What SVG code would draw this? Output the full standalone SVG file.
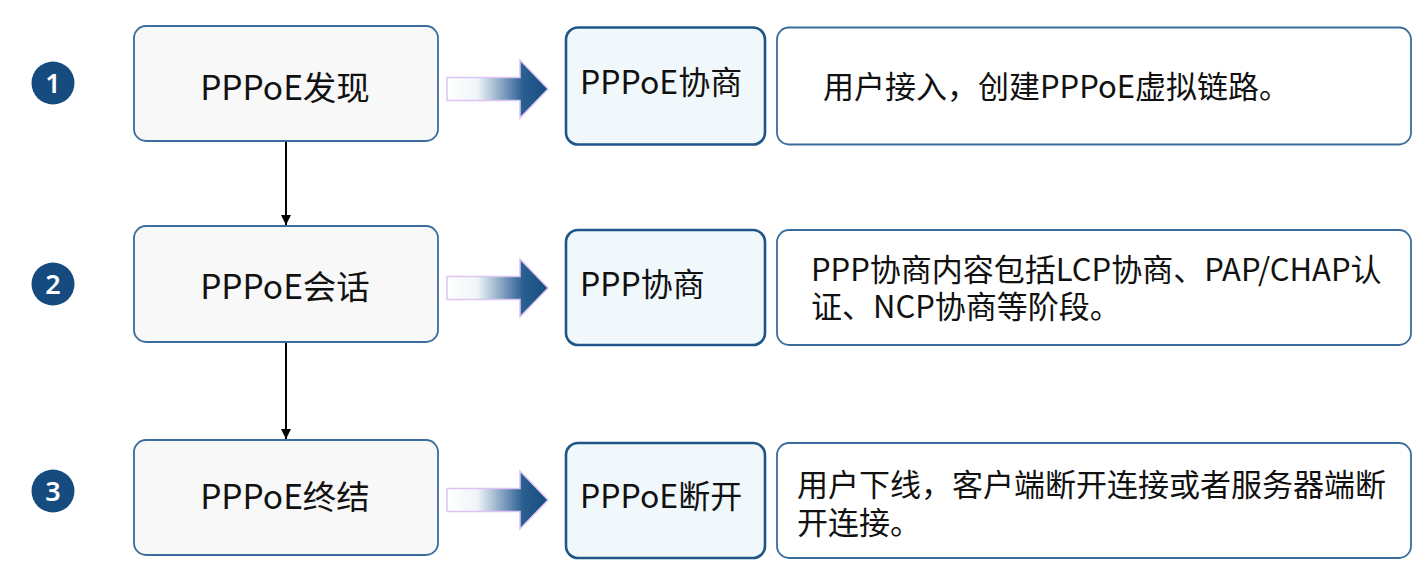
<svg xmlns="http://www.w3.org/2000/svg" width="1425" height="565" viewBox="0 0 1425 565">
<defs>
<linearGradient id="ag" x1="0" y1="0" x2="1" y2="0">
<stop offset="0" stop-color="#ffffff"/>
<stop offset="0.3" stop-color="#f0f5fa"/>
<stop offset="0.75" stop-color="#2b5f92"/>
<stop offset="1" stop-color="#154b7f"/>
</linearGradient>
<marker id="ah" markerWidth="12" markerHeight="12" refX="10" refY="5.5" orient="auto" markerUnits="userSpaceOnUse">
<path d="M0,0.5 L10,5.5 L0,10.5 Z" fill="#000"/>
</marker>
<path id="bigarrow" d="M0,-11.5 L73,-11.5 L73,-29 L101,0 L73,29 L73,11.5 L0,11.5 Z"/>
</defs>
<style>
.step{fill:#f8f8f8;stroke:#3a6d9c;stroke-width:1.8}
.mid{fill:#f1f8fc;stroke:#1f5687;stroke-width:2.6}
.desc{fill:#ffffff;stroke:#3a6d9c;stroke-width:1.8}
.num{fill:#154b7f}
.numt{fill:#fff;font-family:"Noto Sans","Liberation Sans",sans-serif;font-weight:600;font-size:27px;text-anchor:middle}
.t1{fill:#111;font-family:"Noto Sans CJK SC",sans-serif;font-size:33.5px;text-anchor:middle}
.t2{fill:#111;font-family:"Noto Sans CJK SC",sans-serif;font-size:32px}
.t3{fill:#111;font-family:"Noto Sans CJK SC",sans-serif;font-size:31px}
.arr{fill:url(#ag);stroke:#dcc4f4;stroke-width:1.5}
.conn{stroke:#000;stroke-width:2;fill:none}
</style>
<g id="connectors">
<line class="conn" x1="286" y1="142" x2="286" y2="225" marker-end="url(#ah)"/>
<line class="conn" x1="286" y1="343" x2="286" y2="439" marker-end="url(#ah)"/>
<use href="#bigarrow" class="arr" transform="translate(447,89)"/>
<use href="#bigarrow" class="arr" transform="translate(447,288)"/>
<use href="#bigarrow" class="arr" transform="translate(447,500)"/>
</g>
<g id="num1"><circle class="num" cx="53" cy="83" r="21.5"/><text class="numt" x="53" y="93">1</text></g>
<g id="num2"><circle class="num" cx="53" cy="284" r="21.5"/><text class="numt" x="53" y="294">2</text></g>
<g id="num3"><circle class="num" cx="53" cy="491" r="21.5"/><text class="numt" x="53" y="501">3</text></g>
<g id="step1"><rect class="step" x="134" y="26" width="304" height="115" rx="12"/><text class="t1" x="285" y="100">PPPoE发现</text></g>
<g id="step2"><rect class="step" x="134" y="226" width="304" height="116" rx="12"/><text class="t1" x="285" y="299">PPPoE会话</text></g>
<g id="step3"><rect class="step" x="134" y="440" width="304" height="115" rx="12"/><text class="t1" x="285" y="509">PPPoE终结</text></g>
<g id="mid1"><rect class="mid" x="566" y="27.5" width="199" height="117" rx="12"/><text class="t2" x="580" y="94">PPPoE协商</text></g>
<g id="mid2"><rect class="mid" x="566" y="230" width="199" height="115" rx="12"/><text class="t2" x="580" y="296">PPP协商</text></g>
<g id="mid3"><rect class="mid" x="566" y="443" width="199" height="115" rx="12"/><text class="t2" x="580" y="508">PPPoE断开</text></g>
<g id="desc1"><rect class="desc" x="777" y="27.5" width="634" height="117" rx="12"/><text class="t3" x="823" y="98">用户接入，创建PPPoE虚拟链路。</text></g>
<g id="desc2"><rect class="desc" x="777" y="230" width="634" height="115" rx="12"/><text class="t3" x="811" y="281">PPP协商内容包括LCP协商、PAP/CHAP认<tspan x="811" dy="37">证、NCP协商等阶段。</tspan></text></g>
<g id="desc3"><rect class="desc" x="777" y="443" width="634" height="115" rx="12"/><text class="t3" x="797" y="496">用户下线，客户端断开连接或者服务器端断<tspan x="797" dy="38">开连接。</tspan></text></g>
</svg>
